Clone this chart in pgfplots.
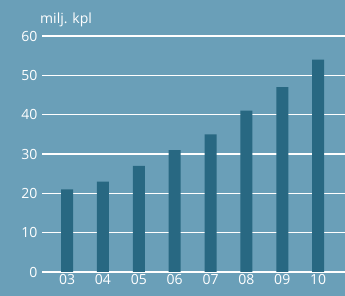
\documentclass[border=0pt]{standalone}
\usepackage{fontspec}
\setmainfont{Open Sans}
\usepackage{pgfplots}
\pgfplotsset{compat=1.18}
\definecolor{bg}{HTML}{6A9FB8}
\definecolor{bar}{HTML}{286882}
\begin{document}
\begin{tikzpicture}
\fill[bg] (-42pt,-24pt) rectangle (303pt,272pt);
\begin{axis}[
  at={(0,0)}, anchor=south west,
  scale only axis, width=303pt, height=236pt,
  xmin=-0.70, xmax=7.75, ymin=0, ymax=60,
  ytick={0,10,...,60},
  xtick=data,
  xticklabels={03,04,05,06,07,08,09,10},
  axis line style={draw=none},
  major tick style={draw=none},
  ymajorgrids, grid style={white, line width=1.2pt},
  ticklabel style={text=white, font=\fontsize{14}{16}\selectfont},
  /pgf/number format/assume math mode=true,
  yticklabel style={xshift=-1pt},
  xticklabel style={yshift=1pt},
  clip=false,
]
\addplot[ybar, bar width=12pt, fill=bar, draw=none] coordinates {
(0,21) (1,23) (2,27) (3,31) (4,35) (5,41) (6,47) (7,54)};
\end{axis}
\node[anchor=base west, text=white, font=\fontsize{14}{16}\selectfont, inner sep=0pt] at (-2pt,248pt) {milj. kpl};
\pgfresetboundingbox
\useasboundingbox (-42pt,-24pt) rectangle (303pt,272pt);
\end{tikzpicture}
\end{document}
